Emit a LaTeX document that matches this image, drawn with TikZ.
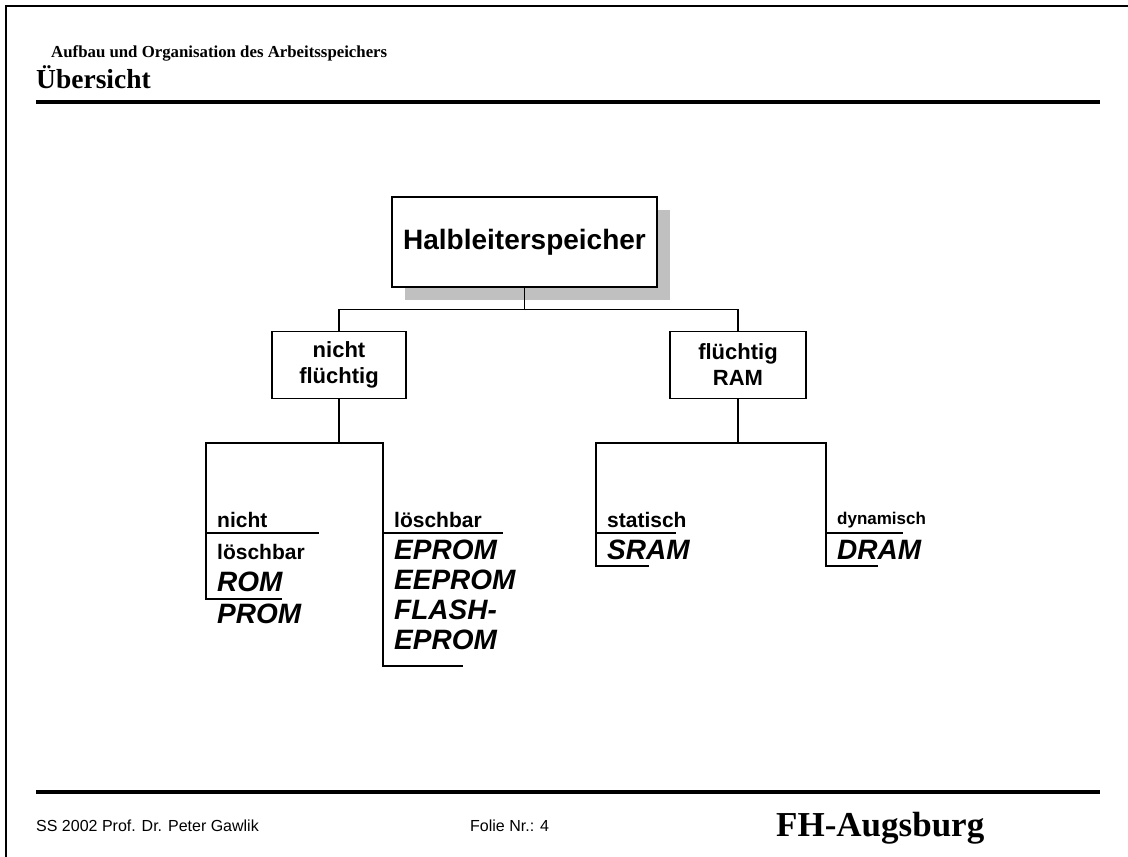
\documentclass[tikz,border=0pt]{standalone}
\usepackage{fontspec}
\setmainfont{Liberation Serif}
\setsansfont{Liberation Sans}
\usetikzlibrary{shadows}

\definecolor{shadowgray}{RGB}{192,192,192}

\tikzset{
  box/.style={draw=black, line width=1.2pt, fill=white, align=center, inner sep=0pt,
    font=\sffamily\bfseries\fontsize{22}{26}\selectfont},
  leaf/.style={anchor=base west, inner sep=0pt, font=\sffamily\bfseries\fontsize{21}{24}\selectfont},
  memtype/.style={anchor=base west, inner sep=0pt, font=\sffamily\bfseries\itshape\fontsize{28}{30}\selectfont},
  tree/.style={line width=1.2pt},
  rule/.style={line width=4pt},
}

\begin{document}
\begin{tikzpicture}[x=1pt,y=-1pt]
\useasboundingbox (0,0) rectangle (1128,857);
% page frame
\draw [line width=2pt] (6,857) -- (6,6) -- (1128,6);
% header
\node (head) [anchor=base west, inner sep=0pt, font=\bfseries\fontsize{16.8}{18}\selectfont] at (51,57) {Aufbau und Organisation des Arbeitsspeichers};
\node (title) [anchor=base west, inner sep=0pt, font=\bfseries\fontsize{27.5}{30}\selectfont] at (36,88) {Übersicht};
\draw [rule] (36,102) -- (1100,102);

% top of the tree
\node (hls) [box, minimum width=265pt, minimum height=90pt, font=\sffamily\bfseries\fontsize{28}{32}\selectfont,
  drop shadow={shadow xshift=13pt, shadow yshift=-13pt, fill=shadowgray, opacity=1}] at (524.5,242) {Halbleiterspeicher};
\node (nfl) [box, minimum width=134pt, minimum height=67pt] at (339,365) {nicht\\flüchtig};
\node (fl) [box, minimum width=136pt, minimum height=67pt] at (738,365) {flüchtig\\RAM};
\draw [tree] (hls.south) -- ++(0,22) coordinate (hj);
\draw [tree] (nfl.north) |- (hj) -| (fl.north);

% nicht fluechtig
\coordinate (nfl-l) at (206,443);
\coordinate (nfl-r) at (383,443);
\coordinate (rom-u) at (282,599);
\coordinate (eprom-u) at (463,666);
\draw [tree] (nfl.south) -- (nfl.south |- nfl-l);
\draw [tree] (rom-u) -| (nfl-l) -- (nfl-r) |- (eprom-u);
\draw [tree] (206,533) -- (319,533);
\draw [tree] (383,533) -- (503,533);
\node (nl1) [leaf] at (217,527) {nicht};
\node (nl2) [leaf] at (217,559) {löschbar};
\node (rom) [memtype] at (217,591) {ROM};
\node (prom) [memtype] at (217,623) {PROM};
\node (lb) [leaf] at (394,527) {löschbar};
\node (eprom) [memtype] at (394,559) {EPROM};
\node (eeprom) [memtype] at (394,589) {EEPROM};
\node (flash) [memtype] at (394,619) {FLASH-};
\node (eprom2) [memtype] at (394,649) {EPROM};

% fluechtig
\coordinate (fl-l) at (596,443);
\coordinate (fl-r) at (826,443);
\coordinate (sram-u) at (649,566);
\coordinate (dram-u) at (878,566);
\draw [tree] (fl.south) -- (fl.south |- fl-l);
\draw [tree] (sram-u) -| (fl-l) -- (fl-r) |- (dram-u);
\draw [tree] (596,533) -- (676,533);
\draw [tree] (826,533) -- (903,533);
\node (stat) [leaf] at (607,527) {statisch};
\node (sram) [memtype] at (607,559) {SRAM};
\node (dyn) [leaf, font=\sffamily\bfseries\fontsize{17}{20}\selectfont] at (837,524) {dynamisch};
\node (dram) [memtype] at (837,559) {DRAM};

% footer
\draw [rule] (36,792) -- (1100,792);
\node (author) [anchor=base west, inner sep=0pt, font=\sffamily\fontsize{16}{18}\selectfont] at (36,831) {SS 2002 Prof. Dr. Peter Gawlik};
\node (folie) [anchor=base west, inner sep=0pt, font=\sffamily\fontsize{16}{18}\selectfont] at (470,831) {Folie Nr.: 4};
\node (fh) [anchor=base west, inner sep=0pt, font=\bfseries\fontsize{35}{36}\selectfont] at (776,836) {FH-Augsburg};
\end{tikzpicture}
\end{document}
